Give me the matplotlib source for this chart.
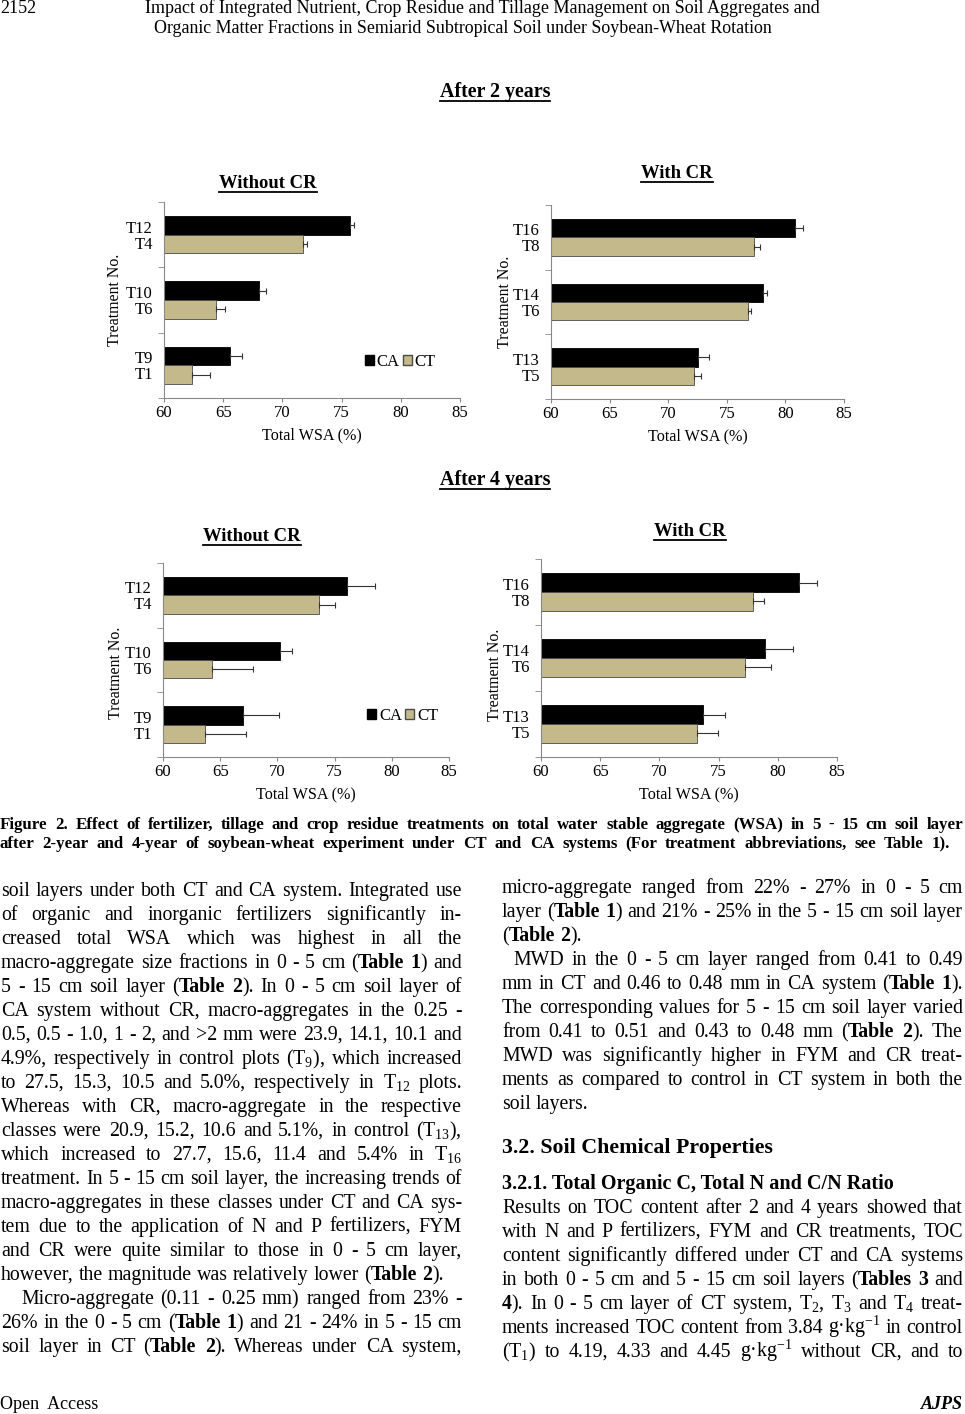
import numpy as np
import matplotlib
matplotlib.use("Agg")
import matplotlib.pyplot as plt
from matplotlib.lines import Line2D
from matplotlib.patches import Patch

plt.rcParams['font.family'] = ['Liberation Serif', 'DejaVu Serif']
plt.rcParams['mathtext.fontset'] = 'custom'
plt.rcParams['mathtext.rm'] = 'Liberation Serif'
plt.rcParams['mathtext.it'] = 'Liberation Serif:italic'
plt.rcParams['mathtext.bf'] = 'Liberation Serif:bold'

# treatments, bottom group first
lab_ca_nocr = ['T9', 'T10', 'T12']
lab_ct_nocr = ['T1', 'T6', 'T4']
lab_ca_cr = ['T13', 'T14', 'T16']
lab_ct_cr = ['T5', 'T6', 'T8']

# total WSA (%) after 2 years
ca_2y_nocr = [65.55, 68.0, 75.7]
ca_2y_nocr_err = [1.0, 0.6, 0.35]
ct_2y_nocr = [62.4, 64.4, 71.7]
ct_2y_nocr_err = [1.45, 0.75, 0.35]
ca_2y_cr = [72.5, 78.1, 80.8]
ca_2y_cr_err = [1.0, 0.35, 0.7]
ct_2y_cr = [72.2, 76.8, 77.3]
ct_2y_cr_err = [0.6, 0.3, 0.55]

# total WSA (%) after 4 years
ca_4y_nocr = [67.0, 70.2, 76.1]
ca_4y_nocr_err = [3.15, 1.1, 2.45]
ct_4y_nocr = [63.7, 64.3, 73.6]
ct_4y_nocr_err = [3.55, 3.6, 1.4]
ca_4y_cr = [73.7, 78.9, 81.8]
ca_4y_cr_err = [1.85, 2.35, 1.55]
ct_4y_cr = [73.2, 77.2, 77.9]
ct_4y_cr_err = [1.75, 2.2, 0.95]

xticks = [60, 65, 70, 75, 80, 85]

header1 = "Impact of Integrated Nutrient, Crop Residue and Tillage Management on Soil Aggregates and"
header2 = "Organic Matter Fractions in Semiarid Subtropical Soil under Soybean-Wheat Rotation"
caption1 = "Figure 2. Effect of fertilizer, tillage and crop residue treatments on total water stable aggregate (WSA) in 5 - 15 cm soil layer"
caption2 = "after 2-year and 4-year of soybean-wheat experiment under CT and CA systems (For treatment abbreviations, see Table 1)."

# (text, justified, indent)
left_lines = [
    ("soil layers under both CT and CA system. Integrated use", True, 0),
    ("of organic and inorganic fertilizers significantly in-", True, 0),
    ("creased total WSA which was highest in all the", True, 0),
    ("macro-aggregate size fractions in 0 - 5 cm (**Table 1**) and", True, 0),
    ("5 - 15 cm soil layer (**Table 2**). In 0 - 5 cm soil layer of", True, 0),
    ("CA system without CR, macro-aggregates in the 0.25 -", True, 0),
    ("0.5, 0.5 - 1.0, 1 - 2, and >2 mm were 23.9, 14.1, 10.1 and", True, 0),
    (r"4.9%, respectively in control plots ($\mathrm{T}_{9}$), which increased", True, 0),
    (r"to 27.5, 15.3, 10.5 and 5.0%, respectively in $\mathrm{T}_{12}$ plots.", True, 0),
    ("Whereas with CR, macro-aggregate in the respective", True, 0),
    (r"classes were 20.9, 15.2, 10.6 and 5.1%, in control ($\mathrm{T}_{13}$),", True, 0),
    (r"which increased to 27.7, 15.6, 11.4 and 5.4% in $\mathrm{T}_{16}$", True, 0),
    ("treatment. In 5 - 15 cm soil layer, the increasing trends of", True, 0),
    ("macro-aggregates in these classes under CT and CA sys-", True, 0),
    ("tem due to the application of N and P fertilizers, FYM", True, 0),
    ("and CR were quite similar to those in 0 - 5 cm layer,", True, 0),
    ("however, the magnitude was relatively lower (**Table 2**).", False, 0),
    ("Micro-aggregate (0.11 - 0.25 mm) ranged from 23% -", True, 20),
    ("26% in the 0 - 5 cm (**Table 1**) and 21 - 24% in 5 - 15 cm", True, 0),
    ("soil layer in CT (**Table 2**). Whereas under CA system,", True, 0),
]

right_lines1 = [
    ("micro-aggregate ranged from 22% - 27% in 0 - 5 cm", True, 0),
    ("layer (**Table 1**) and 21% - 25% in the 5 - 15 cm soil layer", True, 0),
    ("(**Table 2**).", False, 0),
    ("MWD in the 0 - 5 cm layer ranged from 0.41 to 0.49", True, 11),
    ("mm in CT and 0.46 to 0.48 mm in CA system (**Table 1**).", True, 0),
    ("The corresponding values for 5 - 15 cm soil layer varied", True, 0),
    ("from 0.41 to 0.51 and 0.43 to 0.48 mm (**Table 2**). The", True, 0),
    ("MWD was significantly higher in FYM and CR treat-", True, 0),
    ("ments as compared to control in CT system in both the", True, 0),
    ("soil layers.", False, 0),
]
heading = "3.2. Soil Chemical Properties"
subheading = "3.2.1. Total Organic C, Total N and C/N Ratio"
right_lines2 = [
    ("Results on TOC content after 2 and 4 years showed that", True, 0),
    ("with N and P fertilizers, FYM and CR treatments, TOC", True, 0),
    ("content significantly differed under CT and CA systems", True, 0),
    ("in both 0 - 5 cm and 5 - 15 cm soil layers (**Tables 3** and", True, 0),
    (r"**4**). In 0 - 5 cm layer of CT system, $\mathrm{T}_{2}$, $\mathrm{T}_{3}$ and $\mathrm{T}_{4}$ treat-", True, 0),
    (r"ments increased TOC content from 3.84 g·$\mathrm{kg}^{-1}$ in control", True, 0),
    (r"($\mathrm{T}_{1}$) to 4.19, 4.33 and 4.45 g·$\mathrm{kg}^{-1}$ without CR, and to", True, 0),
]

W, H = 965, 1414
fig = plt.figure(figsize=(W / 100, H / 100), dpi=100)
rend = fig.canvas.get_renderer()


def fy(y):
    return 1 - y / H


def wid(t):
    return t.get_window_extent(renderer=rend).width


def parse(line):
    words = []
    attach = False
    for k, part in enumerate(line.split('**')):
        bold = k % 2 == 1
        for j, s in enumerate(part.split(' ')):
            if j > 0:
                attach = False
            if s == '':
                continue
            if attach and words:
                words[-1].append((s, bold))
            else:
                words.append([(s, bold)])
            attach = True
    return words


def space_width(size, weight='normal'):
    a = fig.text(0, 0, 'x x', fontsize=size, fontweight=weight)
    b = fig.text(0, 0, 'xx', fontsize=size, fontweight=weight)
    s = wid(a) - wid(b)
    a.remove()
    b.remove()
    return s


def draw_line(x0, x1, y, line, size, justify, weight='normal'):
    words = parse(line)
    objs = []
    for w in words:
        pieces = []
        for s, bold in w:
            t = fig.text(0, fy(y), s, fontsize=size, va='baseline', ha='left',
                         fontweight='bold' if (bold or weight == 'bold') else 'normal')
            pieces.append((t, wid(t)))
        objs.append(pieces)
    total = sum(wd for p in objs for _, wd in p)
    sp = space_width(size, weight)
    if justify and len(objs) > 1:
        gap = max((x1 - x0 - total) / (len(objs) - 1), sp * 0.6)
    else:
        gap = sp
    x = x0
    for p in objs:
        for t, wd in p:
            t.set_x(x / W)
            x += wd
        x += gap


def fit_text(x, y, s, target, ha='left', weight='normal', style='normal'):
    t = fig.text(x / W, fy(y), s, fontsize=10, ha=ha, va='baseline',
                 fontweight=weight, fontstyle=style)
    t.set_fontsize(10 * target / wid(t))
    return t


def title_ul(x, y, s, size):
    t = fig.text(x / W, fy(y), s, fontsize=size, fontweight='bold',
                 ha='center', va='baseline')
    bb = t.get_window_extent(renderer=rend)
    fig.add_artist(Line2D([bb.x0 / W, bb.x1 / W], [fy(y + 3.5)] * 2,
                          color='black', lw=1.3))


def panel(box, ca, ca_err, ct, ct_err, lab_ca, lab_ct, ylab_xy, leg_xy=None):
    l, t, r, b = box
    ax = fig.add_axes([l / W, 1 - b / H, (r - l) / W, (b - t) / H])
    y = np.arange(len(ca))
    h = 0.286
    ca = np.array(ca)
    ct = np.array(ct)
    ax.barh(y + h / 2, ca - 60, left=60, height=h, color='black',
            edgecolor='black', lw=0.6, label='CA')
    ax.barh(y - h / 2, ct - 60, left=60, height=h, color='#C4B98A',
            edgecolor='#4a4a4a', lw=0.6, label='CT')
    ax.errorbar(ca, y + h / 2, xerr=[np.zeros(len(ca)), ca_err], fmt='none',
                ecolor='#333333', elinewidth=0.8, capsize=2, capthick=0.8)
    ax.errorbar(ct, y - h / 2, xerr=[np.zeros(len(ct)), ct_err], fmt='none',
                ecolor='#333333', elinewidth=0.8, capsize=2, capthick=0.8)
    ax.set_xlim(60, 85)
    ax.set_ylim(-0.5, len(ca) - 0.5)
    ax.set_xticks(xticks)
    ax.set_xticklabels([str(v) for v in xticks], fontsize=12)
    pos = []
    labs = []
    for i in range(len(ca)):
        pos += [i - h / 2 * 0.85, i + h / 2 * 0.85]
        labs += [lab_ct[i], lab_ca[i]]
    ax.set_yticks(pos)
    ax.set_yticklabels(labs, fontsize=12)
    ax.set_yticks(np.arange(-0.5, len(ca)), minor=True)
    ax.tick_params(axis='y', which='major', length=0, pad=8)
    ax.tick_params(axis='y', which='minor', length=4, color='#888888')
    ax.tick_params(axis='x', length=3, color='#888888', pad=2)
    for sp in ['top', 'right']:
        ax.spines[sp].set_visible(False)
    for sp in ['left', 'bottom']:
        ax.spines[sp].set_color('#888888')
        ax.spines[sp].set_linewidth(0.8)
    ax.set_xlabel('Total WSA (%)', fontsize=11.6, labelpad=5)
    ax.set_ylabel('Treatment No.', fontsize=11.4)
    ax.yaxis.set_label_coords(*ylab_xy)
    if leg_xy is not None:
        hd = [Patch(facecolor='black', edgecolor='black'),
              Patch(facecolor='#C4B98A', edgecolor='#4a4a4a')]
        ax.legend(hd, ['CA', 'CT'], loc='center', bbox_to_anchor=leg_xy, ncol=2,
                  frameon=False, handlelength=0.55, handleheight=0.55,
                  handletextpad=0.15, columnspacing=0.2, fontsize=12,
                  borderaxespad=0)
    return ax


# header
fig.text(0, fy(13), '2152', fontsize=13, va='baseline')
fit_text(482, 13, header1, 675, ha='center')
fit_text(463, 33, header2, 621, ha='center')

# figure
title_ul(495, 97, 'After 2 years', 14.4)
title_ul(268, 188, 'Without CR', 13.4)
title_ul(677, 178, 'With CR', 13.4)
panel((164, 202, 460, 398), ca_2y_nocr, ca_2y_nocr_err, ct_2y_nocr, ct_2y_nocr_err,
      lab_ca_nocr, lab_ct_nocr, (-0.139, 0.5), (0.797, 0.183))
panel((551, 205, 844, 399), ca_2y_cr, ca_2y_cr_err, ct_2y_cr, ct_2y_cr_err,
      lab_ca_cr, lab_ct_cr, (-0.13, 0.5))

title_ul(495, 485, 'After 4 years', 14.4)
title_ul(252, 541, 'Without CR', 13.4)
title_ul(690, 536, 'With CR', 13.4)
panel((163, 563, 449, 757), ca_4y_nocr, ca_4y_nocr_err, ct_4y_nocr, ct_4y_nocr_err,
      lab_ca_nocr, lab_ct_nocr, (-0.138, 0.433), (0.838, 0.211))
panel((541, 559, 837, 757), ca_4y_cr, ca_4y_cr_err, ct_4y_cr, ct_4y_cr_err,
      lab_ca_cr, lab_ct_cr, (-0.127, 0.413))

# caption
draw_line(0, 963, 829, caption1, 12.2, True, weight='bold')
draw_line(0, 950, 848, caption2, 12.2, True, weight='bold')

# body text
body = 14.3
for k, (s, j, ind) in enumerate(left_lines):
    draw_line(1 + ind, 462, 896 + 24 * k, s, body, j)
for k, (s, j, ind) in enumerate(right_lines1):
    draw_line(502 + ind, 963, 893 + 24 * k, s, body, j)
fit_text(502, 1153, heading, 271, weight='bold')
fit_text(502, 1189, subheading, 393, weight='bold')
for k, (s, j, ind) in enumerate(right_lines2):
    draw_line(502 + ind, 963, 1213 + 24 * k, s, body, j)

# footer
fig.text(0, fy(1409), 'Open  Access', fontsize=13, va='baseline')
fig.text(963 / W, fy(1409), 'AJPS', fontsize=13, va='baseline', ha='right',
         fontweight='bold', fontstyle='italic')

fig.savefig('out.png', dpi=100)
